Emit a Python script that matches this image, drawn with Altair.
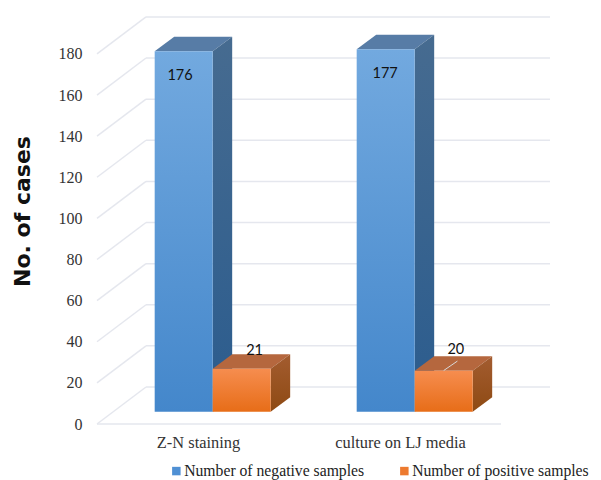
import altair as alt
import pandas as pd

categories = ["Z-N staining", "culture on LJ media"]
series_names = ["Number of negative samples", "Number of positive samples"]
negative = [176, 177]
positive = [21, 20]
y_ticks = list(range(0, 181, 20))

FONT = "Liberation Serif"
DX_WALL, DY_WALL = 0.2426, 18.0   # depth of the chart box in scale units
DX_BAR, DY_BAR = 0.0965, 7.0      # depth of a bar in scale units
BAR_W = 0.2871
BAR_LEFT = -0.2144
BASE = 6.0
MID_DEPTH = 0.996                 # bars stand part-way into the box


def grad(c1, c2):
    return alt.Gradient(gradient="linear", x1=0, y1=0, x2=0, y2=1,
                        stops=[alt.GradientStop(offset=0, color=c1),
                               alt.GradientStop(offset=1, color=c2)])


x_scale = alt.Scale(domain=[-0.5, 1.75], nice=False, zero=False)
y_scale = alt.Scale(domain=[0, 202.33], nice=False, zero=False)
x_axis = alt.Axis(values=[0, 1], domain=False, ticks=False, grid=False,
                  labelExpr="['" + "','".join(categories) + "'][datum.value]",
                  labelFont=FONT, labelFontSize=16.4, labelColor="#333333",
                  labelPadding=10, labelOverlap=False, labelBound=False, labelFlush=False)
y_axis = alt.Axis(values=y_ticks, domain=False, ticks=False, grid=False,
                  labelFont=FONT, labelFontSize=16, labelColor="#333333",
                  labelPadding=15, titleFont="DejaVu Sans", titleFontWeight="bold",
                  titleFontSize=22, titleColor="#111111", titleX=-63, titleY=203)
X = alt.X("x:Q", scale=x_scale, axis=x_axis, title=None)
Y = alt.Y("y:Q", scale=y_scale, axis=y_axis, title="No. of cases")

# walls and floor ---------------------------------------------------------
back_rows, wall_rows = [], []
for t in y_ticks:
    back_rows += [{"t": t, "x": -0.5 + DX_WALL, "y": t + DY_WALL}, {"t": t, "x": 1.5 + DX_WALL, "y": t + DY_WALL}]
    wall_rows += [{"t": t, "x": -0.5, "y": t}, {"t": t, "x": -0.5 + DX_WALL, "y": t + DY_WALL}]
floor_rows = [{"t": 0, "x": -0.5, "y": 0}, {"t": 0, "x": 1.5, "y": 0}]


def lines(rows):
    return alt.Chart(pd.DataFrame(rows)).mark_line(color="#e5e7ee", strokeWidth=1.5).encode(
        x=X, y=Y, detail=alt.Detail("t:N"), order=alt.Order("x:Q"))


# bars --------------------------------------------------------------------
def bar_layers(values, x_off, front, side, top):
    fr, si, tp = [], [], []
    for g, v in enumerate(values):
        x0 = g + x_off
        x1 = x0 + BAR_W
        t = BASE + v * MID_DEPTH
        fr.append({"x": x0, "x2": x1, "y": BASE, "y2": t})
        si += [{"g": g, "x": x1, "y": BASE, "y2": t},
               {"g": g, "x": x1 + DX_BAR, "y": BASE + DY_BAR, "y2": t + DY_BAR}]
        tp += [{"g": g, "x": x0, "y": t, "y2": t},
               {"g": g, "x": x0 + DX_BAR, "y": t, "y2": t + DY_BAR},
               {"g": g, "x": x1, "y": t, "y2": t + DY_BAR},
               {"g": g, "x": x1 + DX_BAR, "y": t + DY_BAR, "y2": t + DY_BAR}]
    return [
        alt.Chart(pd.DataFrame(tp)).mark_area(color=top, orient="vertical", interpolate="linear").encode(
            x=X, y=Y, y2="y2:Q", detail="g:N"),
        alt.Chart(pd.DataFrame(si)).mark_area(color=grad(*side), orient="vertical", interpolate="linear").encode(
            x=X, y=Y, y2="y2:Q", detail="g:N"),
        alt.Chart(pd.DataFrame(fr)).mark_rect(color=grad(*front)).encode(
            x=X, x2="x2:Q", y=Y, y2="y2:Q"),
    ]


blue = bar_layers(negative, BAR_LEFT, ("#72a9df", "#4487cb"), ("#466b90", "#2b5c8e"), "#577ca6")
orange = bar_layers(positive, BAR_LEFT + BAR_W, ("#f68d4f", "#e76d18"), ("#a35c30", "#8e4a13"), "#b5673e")

# labels ------------------------------------------------------------------
label_rows = [
    {"x": 0 + BAR_LEFT + BAR_W / 2 - 0.018, "y": BASE + negative[0] - 12.6, "s": str(negative[0])},
    {"x": 1 + BAR_LEFT + BAR_W / 2 - 0.003, "y": BASE + negative[1] - 12.6, "s": str(negative[1])},
    {"x": 0 + BAR_LEFT + 1.5 * BAR_W + 0.064, "y": BASE + positive[0] + 8.7, "s": str(positive[0])},
    {"x": 1 + BAR_LEFT + 1.5 * BAR_W + 0.06, "y": BASE + positive[1] + 9.8, "s": str(positive[1])},
]
labels = alt.Chart(pd.DataFrame(label_rows)).mark_text(
    font="Lato", fontSize=14.5, color="#111111", baseline="middle", align="center"
).encode(x=X, y=Y, text="s:N")

leader = alt.Chart(pd.DataFrame([
    {"x": 1 + BAR_LEFT + 1.5 * BAR_W, "y": BASE + positive[1]},
    {"x": 1 + BAR_LEFT + 1.5 * BAR_W + 0.068, "y": BASE + positive[1] + 4.6},
])).mark_line(color="#d8d8d8", strokeWidth=1).encode(x=X, y=Y)

# legend ------------------------------------------------------------------
legend_layer = alt.Chart(pd.DataFrame({
    "s": series_names, "x": [0, 0], "y": [0, 0]
})).mark_square(size=81, opacity=0).encode(
    x=X, y=Y,
    color=alt.Color("s:N", scale=alt.Scale(domain=series_names, range=["#4f90d4", "#ed7a2f"]),
                    legend=alt.Legend(orient="none", direction="horizontal", title=None,
                                      legendX=67, legendY=455, padding=0,
                                      symbolType="square", symbolSize=72, symbolOpacity=1,
                                      symbolOffset=4.5,
                                      symbolStrokeWidth=0, columnPadding=27, labelLimit=300,
                                      labelFont=FONT, labelFontSize=15.7, labelColor="#222222",
                                      labelOffset=0)),
)

chart = alt.layer(
    lines(back_rows), lines(wall_rows), lines(floor_rows),
    *blue, *orange, leader, labels, legend_layer,
).resolve_scale(x="shared", y="shared").properties(
    width=454.5, height=416,
    autosize=alt.AutoSizeParams(type="none"),
    padding={"left": 89, "top": 0, "right": 41.5, "bottom": 56},
    background="white",
).configure_view(stroke=None)

chart.save("out.html", embed_options={"renderer": "svg", "actions": False})
